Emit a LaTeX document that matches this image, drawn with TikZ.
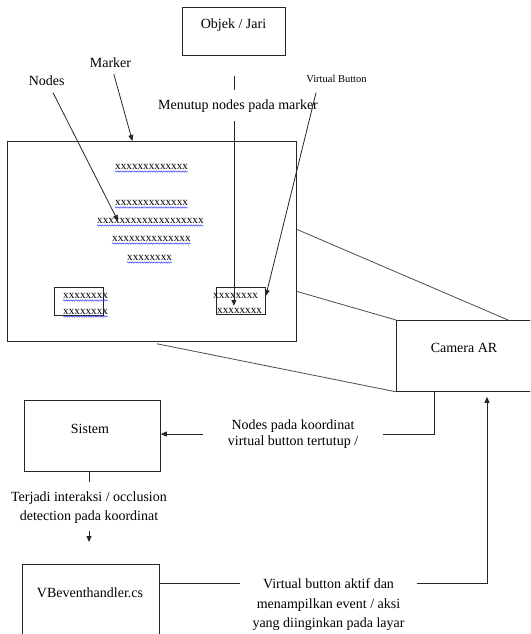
\documentclass[tikz,border=0pt]{standalone}
\usepackage{fontspec}
\setmainfont{Liberation Serif}
\usetikzlibrary{arrows.meta,decorations.pathmorphing}

\tikzset{
  box/.style={draw=black!85, line width=0.8pt, anchor=north west, inner sep=0pt},
  lbl/.style={inner sep=0pt, font=\fontsize{14}{16}\selectfont},
  xtxt/.style={inner sep=0pt, anchor=base west, font=\fontsize{11.2}{13}\selectfont},
  squig/.style={draw=blue!80, line width=0.45pt, decorate,
    decoration={snake, amplitude=0.7pt, segment length=2.4pt}},
  arr/.style={draw=black!85, line width=0.8pt, -{Triangle[length=6pt,width=5pt]}},
  link/.style={draw=black!85, line width=0.8pt},
  view/.style={draw=black!70, line width=0.8pt}
}
% one row of x with the wavy underline
\newcommand{\xrow}[3]{%
  \node[xtxt] (#1) at #2 {#3};
  \draw[squig] ([yshift=-2.5pt]#1.base west) -- ([yshift=-2.5pt]#1.base east);
}

\begin{document}
\begin{tikzpicture}[x=1pt,y=-1pt]
\useasboundingbox (0,0) rectangle (530,634);
\clip (0,0) rectangle (530,634);

% boxes
\node[box, minimum width=103pt, minimum height=48pt] (objek) at (182,7) {};
\node[lbl, anchor=base] (objektxt) at (233.5,29) {Objek / Jari};
\node[box, minimum width=289pt, minimum height=200pt] (marker) at (7,141) {};
\node[box, minimum width=49pt, minimum height=28pt] (nodebox) at (54,287) {};
\node[box, minimum width=49pt, minimum height=27pt] (vbtn) at (216,287) {};
\node[box, minimum width=150pt, minimum height=71pt] (camera) at (396,320) {};
\node[lbl, anchor=base] (cameratxt) at (464,352) {Camera AR};
\node[box, minimum width=136pt, minimum height=71pt] (sistem) at (24,400) {};
\node[lbl, anchor=base] (sistemtxt) at (90,433) {Sistem};
\node[box, minimum width=137pt, minimum height=90pt] (vbh) at (22,564) {};
\node[lbl, anchor=base] (vbhtxt) at (90,597) {VBeventhandler.cs};

% nodes on the marker
\xrow{row1}{(115,169)}{xxxxxxxxxxxxx}
\xrow{row2}{(115,205)}{xxxxxxxxxxxxx}
\xrow{row3}{(97,223)}{xxxxxxxxxxxxxxxxxxx}
\xrow{row4}{(112,241)}{xxxxxxxxxxxxxx}
\xrow{row5}{(127,260)}{xxxxxxxx}
\xrow{nb1}{(63,298)}{xxxxxxxx}
\xrow{nb2}{(63,314)}{xxxxxxxx}
\node[xtxt] (vb1) at (213,298) {xxxxxxxx};
\node[xtxt] (vb2) at (217,313) {xxxxxxxx};

% labels
\node[lbl, anchor=base] (markerlbl) at (110.5,67) {Marker};
\node[lbl, anchor=base] (nodeslbl) at (46.7,85) {Nodes};
\node[lbl, anchor=base, font=\fontsize{10.5}{12}\selectfont] (vblbl) at (336.5,82.5) {Virtual Button};
\node[lbl, anchor=base, inner ysep=9pt] (menutup) at (238,109) {Menutup nodes pada marker};
\node[lbl, anchor=north, align=center, inner xsep=24.5pt] (koor) at (293,419.5)
  {Nodes pada koordinat\\virtual button tertutup /};
\node[lbl, anchor=north, align=center, font=\fontsize{14}{19}\selectfont] (terjadi) at (89,491.5)
  {Terjadi interaksi / occlusion\\detection pada koordinat};
\node[lbl, anchor=north, align=center, inner xsep=12.5pt, font=\fontsize{14}{19.5}\selectfont] (aktif) at (328.5,578.5)
  {Virtual button aktif dan\\menampilkan event / aksi\\yang diinginkan pada layar};

\coordinate (nodetip) at (118,221);
\coordinate (vbout) at ([yshift=-19pt]vbh.north east);

% arrows
\draw[arr, shorten <=7pt] (markerlbl) -- ([xshift=-19.5pt]marker.north);
\draw[arr, shorten <=8pt] (nodeslbl) -- (nodetip);
\draw[arr, shorten <=10pt] ([xshift=-18pt]vblbl.south) -- ([yshift=5pt]vbtn.east);
\draw[link, shorten <=20pt] (objek.south) -- (objek.south |- menutup.north);
\draw[arr, shorten >=9pt] (objek.south |- menutup.south) -- (objek.south |- vbtn.south);

% camera view
\draw[view] ([yshift=12pt]marker.east) -- ([xshift=112pt]camera.north west);
\draw[view] ([yshift=-50pt]marker.east) -- (camera.north west);
\draw[view] ([xshift=150pt,yshift=-2pt]marker.south west) -- (camera.south west);

\draw[link] ([xshift=38pt]camera.south west) |- (koor.east);
\draw[arr] (koor.west) -- (sistem.east |- koor.west);
\draw[link, shorten >=9.5pt] (sistem.south -| terjadi.north) -- (terjadi.north);
\draw[arr, shorten <=7pt, shorten >=22pt] (terjadi.south) -- (vbh.north -| terjadi.south);
\draw[link] (vbout) -- (vbout -| aktif.west);
\draw[arr, shorten >=5pt] (vbout -| aktif.east) -| ([xshift=91pt]camera.south west);
\end{tikzpicture}
\end{document}
